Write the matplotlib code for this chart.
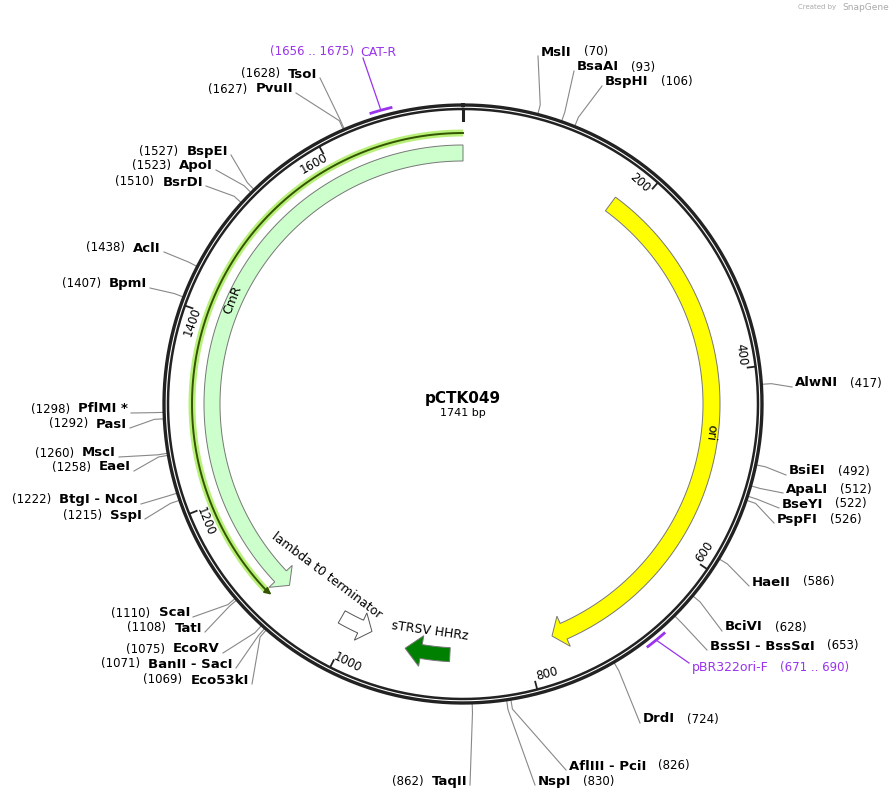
import numpy as np
import matplotlib.pyplot as plt
from matplotlib.patches import Polygon

plt.rcParams['font.family'] = ['DejaVu Sans']

seq_len = 1741
plasmid_name = "pCTK049"

# restriction sites: name, position, label x, label y
right_sites = [("MslI", 70, 541, 52), ("BsaAI", 93, 577, 67), ("BspHI", 106, 605, 82),
               ("AlwNI", 417, 795, 383), ("BsiEI", 492, 789, 471), ("ApaLI", 512, 786, 489),
               ("BseYI", 522, 782, 504), ("PspFI", 526, 777, 519), ("HaeII", 586, 752, 582),
               ("BciVI", 628, 725, 627), ("BssSI - BssSαI", 653, 710, 646), ("DrdI", 724, 643, 719),
               ("AflIII - PciI", 826, 569, 766), ("NspI", 830, 538, 781)]
left_sites = [("TaqII", 862, 467, 781), ("Eco53kI", 1069, 249, 680), ("BanII - SacI", 1071, 233, 664),
              ("EcoRV", 1075, 220, 649), ("TatI", 1108, 202, 628), ("ScaI", 1110, 190, 613),
              ("SspI", 1215, 142, 515), ("BtgI - NcoI", 1222, 138, 500), ("EaeI", 1258, 131, 467),
              ("MscI", 1260, 116, 453), ("PasI", 1292, 127, 424), ("PflMI *", 1298, 128, 409),
              ("BpmI", 1407, 147, 284), ("AclI", 1438, 161, 248), ("BsrDI", 1510, 203, 182),
              ("ApoI", 1523, 213, 166), ("BspEI", 1527, 228, 151), ("PvuII", 1627, 293, 89),
              ("TsoI", 1628, 317, 74)]

ticks = [200, 400, 600, 800, 1000, 1200, 1400, 1600]

# features: name, start, end, strand, color
cmr = ("CmR", 1082, 1741, -1, "#ccffcc")
ori = ("ori", 176, 769, 1, "#ffff00")
lam = ("lambda t0 terminator", 976, 1014, -1, "white")
hhrz = ("sTRSV HHRz", 885, 935, 1, "#008000")

primers = [("CAT-R", 1656, 1675, 290, 52, "right"), ("pBR322ori-F", 671, 690, 692, 667, "left")]

cx, cy = 463, 404


def pt(p, r):
    a = 2 * np.pi * p / seq_len
    return cx + r * np.sin(a), cy - r * np.cos(a)


def arc(p0, p1, r, n=200):
    ps = np.linspace(p0, p1, n)
    return [pt(p, r) for p in ps]


def arrow(ax, start, end, strand, r_in, r_out, head_in, head_out, head_len, fc, ec):
    mid = (r_in + r_out) / 2
    if strand > 0:
        poly = arc(start, end - head_len, r_out) + [pt(end - head_len, head_out), pt(end, mid),
                                                    pt(end - head_len, head_in)] + arc(end - head_len, start, r_in)
    else:
        poly = arc(end, start + head_len, r_out) + [pt(start + head_len, head_out), pt(start, mid),
                                                    pt(start + head_len, head_in)] + arc(start + head_len, end, r_in)
    ax.add_patch(Polygon(poly, closed=True, fc=fc, ec=ec, lw=0.7, zorder=3))


fig = plt.figure(figsize=(8.96, 7.99), dpi=100)
ax = fig.add_axes([0, 0, 1, 1])
ax.set_xlim(0, 896)
ax.set_ylim(799, 0)
ax.axis('off')

# backbone
full = np.array(arc(0, seq_len, 299, 600))
ax.plot(full[:, 0], full[:, 1], color="#222222", lw=2.4, zorder=4)
full = np.array(arc(0, seq_len, 295, 600))
ax.plot(full[:, 0], full[:, 1], color="#222222", lw=1.8, zorder=4)
x0, y0 = pt(0, 295)
x1, y1 = pt(0, 284)
ax.plot([x0, x1], [y0, y1], color="#222222", lw=2.2, zorder=4)

for t in ticks:
    a, b = pt(t, 294), pt(t, 287)
    ax.plot([a[0], b[0]], [a[1], b[1]], color="#222222", lw=1.3, zorder=4)
    deg = 360.0 * t / seq_len
    rot = ((-deg + 90) % 180) - 90
    tx, ty = pt(t - 13, 283)
    ax.text(tx, ty, str(t), fontsize=8.5, rotation=rot, ha='center', va='center', rotation_mode='anchor')

# features
hl = np.array(arc(1095, 1741, 271))
ax.plot(hl[:, 0], hl[:, 1], color="#b8f07a", lw=5, solid_capstyle='butt', zorder=2)
ax.plot(hl[:, 0], hl[:, 1], color="#335500", lw=1.4, zorder=2)
ha, hb = pt(1095, 271), pt(1086, 270)
ax.annotate("", xy=hb, xytext=ha, arrowprops=dict(arrowstyle="-|>", color="#335500", lw=1.2), zorder=2)

arrow(ax, cmr[1], cmr[2], cmr[3], 243, 259, 235, 267, 14, cmr[4], "#777777")
arrow(ax, ori[1], ori[2], ori[3], 240, 257, 232, 265, 14, ori[4], "#777777")
arrow(ax, lam[1], lam[2], lam[3], 238, 252, 230, 260, 14, lam[4], "#555555")
arrow(ax, hhrz[1], hhrz[2], hhrz[3], 244, 258, 235, 266, 18, hhrz[4], "#777777")

ax.text(233, 300, "CmR", fontsize=9, rotation=68, ha='center', va='center')
ax.text(711, 432, "ori", fontsize=9, rotation=-97, ha='center', va='center')
ax.text(327, 576, "lambda t0 terminator", fontsize=9, rotation=-37, ha='center', va='center')
ax.text(430, 631, "sTRSV HHRz", fontsize=9, rotation=-8, ha='center', va='center')

# primers
purple = "#9933ee"
for name, s, e, lx, ly, side in primers:
    pa = np.array(arc(s, e, 305, 20))
    ax.plot(pa[:, 0], pa[:, 1], color=purple, lw=2, zorder=4)
    m = pt((s + e) / 2, 305)
    if side == "right":
        ax.plot([m[0], lx + 73], [m[1], ly + 6], color=purple, lw=0.9)
        ax.text(lx + 70, ly, name, color=purple, fontsize=9, ha='left', va='center')
        ax.text(lx + 64, ly, "(%d .. %d)" % (s, e), color=purple, fontsize=8.5, ha='right', va='center')
    else:
        ax.plot([m[0], lx - 3], [m[1], ly - 4], color=purple, lw=0.9)
        ax.text(lx, ly, name, color=purple, fontsize=9, ha='left', va='center')
        ax.text(lx + 88, ly, "(%d .. %d)" % (s, e), color=purple, fontsize=8.5, ha='left', va='center')

# restriction sites
fig.canvas.draw()
rend = fig.canvas.get_renderer()
inv = ax.transData.inverted()


def text_width(t):
    bb = t.get_window_extent(rend)
    p0 = inv.transform((bb.x0, bb.y0))
    p1 = inv.transform((bb.x1, bb.y0))
    return p1[0] - p0[0]


for name, p, lx, ly in right_sites:
    a, b = pt(p, 300), pt(p, 309)
    ax.plot([a[0], b[0], lx - 3], [a[1], b[1], ly + 4], color="#888888", lw=0.8, zorder=1)
    t = ax.text(lx, ly, name, fontsize=9.5, fontweight='bold', ha='left', va='center')
    w = text_width(t)
    ax.text(lx + w + 12, ly, "(%d)" % p, fontsize=8.5, ha='left', va='center')

for name, p, lx, ly in left_sites:
    a, b = pt(p, 300), pt(p, 309)
    ax.plot([a[0], b[0], lx + 3], [a[1], b[1], ly + 4], color="#888888", lw=0.8, zorder=1)
    t = ax.text(lx, ly, name, fontsize=9.5, fontweight='bold', ha='right', va='center')
    w = text_width(t)
    ax.text(lx - w - 8, ly, "(%d)" % p, fontsize=8.5, ha='right', va='center')

ax.text(cx, 398, plasmid_name, fontsize=11, fontweight='bold', ha='center', va='center')
ax.text(cx, 413, "%d bp" % seq_len, fontsize=8, ha='center', va='center')
ax.text(836, 7, "Created by", fontsize=5, color="#aaaaaa", ha='right', va='center')
ax.text(842, 7, "SnapGene", fontsize=6.5, color="#aaaaaa", ha='left', va='center')

fig.savefig("out.png", dpi=100)
